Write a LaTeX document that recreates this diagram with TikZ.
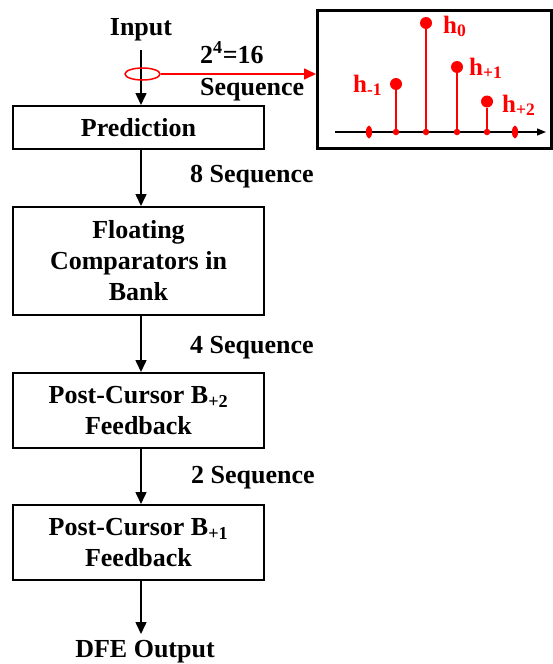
\documentclass[tikz,border=0pt]{standalone}
\usepackage{fontspec}
\setmainfont{Liberation Serif}
\usetikzlibrary{arrows.meta,shapes.geometric}
\begin{document}
\begin{tikzpicture}[x=1pt,y=-1pt,
  txt/.style={font=\fontsize{26}{31}\selectfont\bfseries, inner sep=0pt, align=center},
  redtxt/.style={font=\fontsize{25}{30}\selectfont\bfseries, text=red, inner sep=0pt},
  blk/.style={draw, line width=2pt, minimum width=251pt, inner sep=0pt, align=center,
              font=\fontsize{26}{31}\selectfont\bfseries},
  flow/.style={-{Triangle[length=12pt,width=11pt]}, line width=1.5pt},
  stem/.style={red, line width=1.6pt},
  tipdot/.style={circle, fill=red, inner sep=0pt, minimum size=12pt},
  basedot/.style={circle, fill=red, inner sep=0pt, minimum size=6.5pt},
  sidemark/.style={ellipse, fill=red, inner sep=0pt, minimum width=6pt, minimum height=13pt}]
\useasboundingbox (0,0) rectangle (553,664);

% processing chain
\node[blk, minimum height=43pt]  (pred)  at (138.5,127.5) {Prediction};
\node[blk, minimum height=108pt] (float) at (138.5,261)   {Floating\\Comparators in\\Bank};
\node[blk, minimum height=75pt]  (post2) at (138.5,410.5) {Post-Cursor B\textsubscript{+2}\\Feedback};
\node[blk, minimum height=75pt]  (post1) at (138.5,542.5) {Post-Cursor B\textsubscript{+1}\\Feedback};

\node[txt, anchor=base] (input) at (141,35) {Input};
\node[txt, anchor=base] (out)   at (145,657) {DFE Output};
\coordinate (in) at (141,50);
\coordinate (outtip) at (141,634);

\draw[flow] (in) -- (in |- pred.north);
\draw[flow] (pred.south -| in)  -- (float.north -| in);
\draw[flow] (float.south -| in) -- (post2.north -| in);
\draw[flow] (post2.south -| in) -- (post1.north -| in);
\draw[flow] (post1.south -| in) -- (outtip);

\node[txt, anchor=base west] (s8) at (190,182) {8 Sequence};
\node[txt, anchor=base west] (s4) at (190,353) {4 Sequence};
\node[txt, anchor=base west] (s2) at (191,483) {2 Sequence};

% tap-off to the channel response plot
\node[draw=red, line width=1.5pt, ellipse, minimum width=35pt, minimum height=12pt, inner sep=0pt]
  (tap) at (142.5,74) {};
\node[draw, line width=3pt, minimum width=234pt, minimum height=138pt, inner sep=0pt]
  (plot) at (434.5,79) {};
\draw[red, -{Triangle[length=12pt,width=11pt]}, line width=1.5pt] (tap.east) -- (plot.west |- tap);
\node[txt, anchor=base west] (n16) at (200,63) {2\textsuperscript{4}=16};
\node[txt, anchor=base west] (seq) at (200,95) {Sequence};

% pulse response
\coordinate (a0) at (335,132);
\coordinate (a1) at (546,132);
\draw[-{Triangle[length=9pt,width=7pt]}, line width=1.3pt] (a0) -- (a1);

\node[sidemark] (m1) at (369,132) {};
\node[sidemark] (m2) at (515,132) {};

\node[basedot] (bm1) at (396,132) {};
\node[basedot] (b0)  at (426,132) {};
\node[basedot] (bp1) at (457,132) {};
\node[basedot] (bp2) at (487,132) {};

\node[tipdot] (tm1) at (396,84) {};
\node[tipdot] (t0)  at (426,23) {};
\node[tipdot] (tp1) at (457,67) {};
\node[tipdot] (tp2) at (487,101.5) {};

\draw[stem] (bm1) -- (tm1);
\draw[stem] (b0)  -- (t0);
\draw[stem] (bp1) -- (tp1);
\draw[stem] (bp2) -- (tp2);

\node[redtxt, anchor=base west] (lm1) at (353,92)  {h\textsubscript{-1}};
\node[redtxt, anchor=base west] (l0)  at (443,33)  {h\textsubscript{0}};
\node[redtxt, anchor=base west] (lp1) at (469,75)  {h\textsubscript{+1}};
\node[redtxt, anchor=base west] (lp2) at (502,112) {h\textsubscript{+2}};
\end{tikzpicture}
\end{document}
